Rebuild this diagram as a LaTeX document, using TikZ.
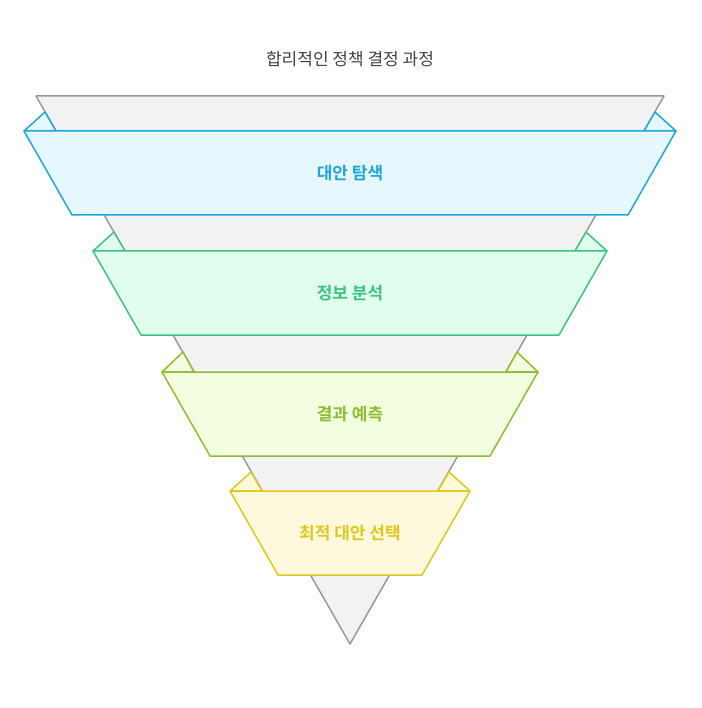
\documentclass[tikz,border=0pt]{standalone}
\usepackage{fontspec}
\newfontfamily\kr{Noto Sans CJK KR}
\newfontfamily\krb{Noto Sans CJK KR Bold}
\definecolor{sb}{HTML}{1EA7DF}\definecolor{fb}{HTML}{E6F7FE}
\definecolor{sg}{HTML}{3CC37F}\definecolor{fg}{HTML}{E0FDEE}
\definecolor{sl}{HTML}{8CBD2F}\definecolor{fl}{HTML}{F3FDE0}
\definecolor{sy}{HTML}{E0C81A}\definecolor{fy}{HTML}{FEF9DC}
\tikzset{band/.style={line width=1.5pt,line join=round},lbl/.style={font=\krb\fontsize{17}{20}\selectfont}}
\begin{document}
\begin{tikzpicture}[x=1pt,y=-1pt]
\useasboundingbox (0,0) rectangle (701,708);
\node[font=\kr\fontsize{17}{20}\selectfont,text=black!75] (title) at (350,59) {합리적인 정책 결정 과정};
\draw[line width=1.5pt,draw=gray!80,fill=black!5,line join=round] (36,96) -- (664,96) -- (350,644) -- cycle;
\foreach \ty/\ey/\xl/\xr/\bl/\br/\ex/\ix/\s/\f/\t in {
 131/112/24/676/72/628/45/56/sb/fb/대안 탐색,
 251/232/93/607/141/559/114/125/sg/fg/정보 분석,
 372/352/162/538/210/490/183/194/sl/fl/결과 예측,
 491/472/230/470/278/422/251/262/sy/fy/최적 대안 선택}{
 \draw[band,draw=\s,fill=\f] (\xl,\ty) -- (\ex,\ey) -- (\ix,\ty) -- cycle;
 \draw[band,draw=\s,fill=\f] (\xr,\ty) -- (700-\ex,\ey) -- (700-\ix,\ty) -- cycle;
 \draw[band,draw=\s,fill=\f] (\xl,\ty) -- (\xr,\ty) -- (\br,\ty+84) -- (\bl,\ty+84) -- cycle;
 \node[lbl,text=\s] at (350,\ty+42) {\t};
}
\end{tikzpicture}
\end{document}
